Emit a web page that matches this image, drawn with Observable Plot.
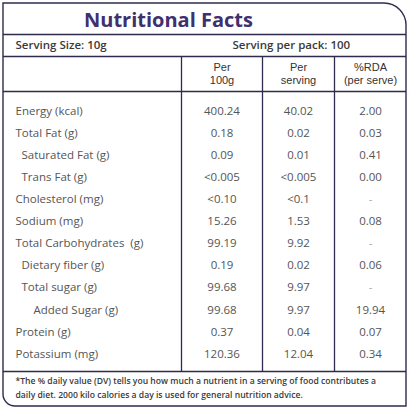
<!DOCTYPE html>
<html>
<head>
<meta charset="utf-8">
<script src="https://cdn.jsdelivr.net/npm/d3@7"></script>
<script src="https://cdn.jsdelivr.net/npm/@observablehq/plot@0.6"></script>
<style>
  html, body { margin: 0; padding: 0; background: #fff; }
  #chart { width: 409px; height: 410px; }
</style>
</head>
<body>
<div id="chart"></div>
<script>
// ---- data ----
const title = "Nutritional Facts";
const servingSize = "Serving Size: 10g";
const servingPerPack = "Serving per pack: 100";
const columnHeaders = ["Per\n100g", "Per\nserving", "%RDA\n(per serve)"];
const nutrients = ["Energy (kcal)", "Total Fat (g)", "Saturated Fat (g)", "Trans Fat (g)", "Cholesterol (mg)", "Sodium (mg)", "Total Carbohydrates  (g)", "Dietary fiber (g)", "Total sugar (g)", "Added Sugar (g)", "Protein (g)", "Potassium (mg)"];
const indentLevel = [0, 0, 1, 1, 0, 0, 0, 1, 1, 2, 0, 0];
const per100g = ["400.24", "0.18", "0.09", "<0.005", "<0.10", "15.26", "99.19", "0.19", "99.68", "99.68", "0.37", "120.36"];
const perServing = ["40.02", "0.02", "0.01", "<0.005", "<0.1", "1.53", "9.92", "0.02", "9.97", "9.97", "0.04", "12.04"];
const rda = ["2.00", "0.03", "0.41", "0.00", "-", "0.08", "-", "0.06", "-", "19.94", "0.07", "0.34"];
const footnote = ["*The % daily value (DV) tells you how much a nutrient in a serving of food contributes a", "daily diet. 2000 kilo calories a day is used for general nutrition advice."];

// ---- layout ----
const W = 409, H = 410;
const L = 3, R = 406, T = 3, B = 406;
const colEdges = [L, 181, 262, 334, R];
const hLines = [34, 56, 91, 371];
const rowY0 = 110.5, rowStep = 22.1;
const colMid = i => (colEdges[i] + colEdges[i + 1]) / 2;
const lineColor = "#2e2b4d";
const font = "'Open Sans', sans-serif";

const rows = nutrients.map((name, i) => ({name, i, indent: indentLevel[i], v: [per100g[i], perServing[i], rda[i]]}));
const cells = rows.flatMap(r => r.v.map((val, c) => ({i: r.i, c, val})));
const headerCells = columnHeaders.map((t, c) => ({c, t}));

const frame = (index, {x, y}) => {
  const rTR = 22, rBL = 12;
  const p = d3.path();
  p.moveTo(x(L), y(T));
  p.lineTo(x(R) - rTR, y(T));
  p.arcTo(x(R), y(T), x(R), y(T) + rTR, rTR);
  p.lineTo(x(R), y(B));
  p.lineTo(x(L) + rBL, y(B));
  p.arcTo(x(L), y(B), x(L), y(B) - rBL, rBL);
  p.closePath();
  const el = d3.create("svg:path")
    .attr("d", p.toString())
    .attr("fill", "none")
    .attr("stroke", lineColor)
    .attr("stroke-width", 1.4);
  return el.node();
};

const chart = Plot.plot({
  width: W,
  height: H,
  margin: 0,
  x: {type: "linear", domain: [0, W], range: [0, W], axis: null},
  y: {type: "linear", domain: [0, H], range: [0, H], axis: null},
  style: {fontFamily: font, background: "#fff"},
  marks: [
    frame,
    Plot.ruleY(hLines, {x1: L, x2: R, y: d => d, stroke: lineColor, strokeWidth: 1.3}),
    Plot.ruleX(colEdges.slice(1, 4), {x: d => d, y1: hLines[1], y2: hLines[3], stroke: lineColor, strokeWidth: 1.3}),
    Plot.text([title], {x: 168, y: 20, text: d => d, fontSize: 20, fontWeight: 700, fill: "#3f306e", textAnchor: "middle"}),
    Plot.text([servingSize], {x: 15, y: 45, text: d => d, fontSize: 11.5, fontWeight: 600, fill: "#3a3a3a", textAnchor: "start"}),
    Plot.text([servingPerPack], {x: 232, y: 45, text: d => d, fontSize: 11.5, fontWeight: 600, fill: "#3a3a3a", textAnchor: "start"}),
    Plot.text(headerCells, {x: d => colMid(d.c + 1), y: 73, text: "t", fontFamily: "'Liberation Sans', sans-serif", fontSize: 11, lineHeight: 1.14, fill: "#333", textAnchor: "middle"}),
    Plot.text(rows, {x: d => 15 + d.indent * 6 + (d.indent === 2 ? 6 : 0), y: d => rowY0 + d.i * rowStep, text: "name", fontSize: 11.5, fill: "#555", textAnchor: "start"}),
    Plot.text(cells, {x: d => colMid(d.c + 1), y: d => rowY0 + d.i * rowStep, text: "val", fontSize: 11.5, fill: d => d.val === "-" ? "#aaa" : "#555", textAnchor: "middle"}),
    Plot.text(footnote, {x: 15, y: (d, k) => 381 + k * 14, text: d => d, fontSize: 8.6, fontWeight: 600, fill: "#3a3a3a", textAnchor: "start"})
  ]
});
document.getElementById("chart").append(chart);
</script>
</body>
</html>
